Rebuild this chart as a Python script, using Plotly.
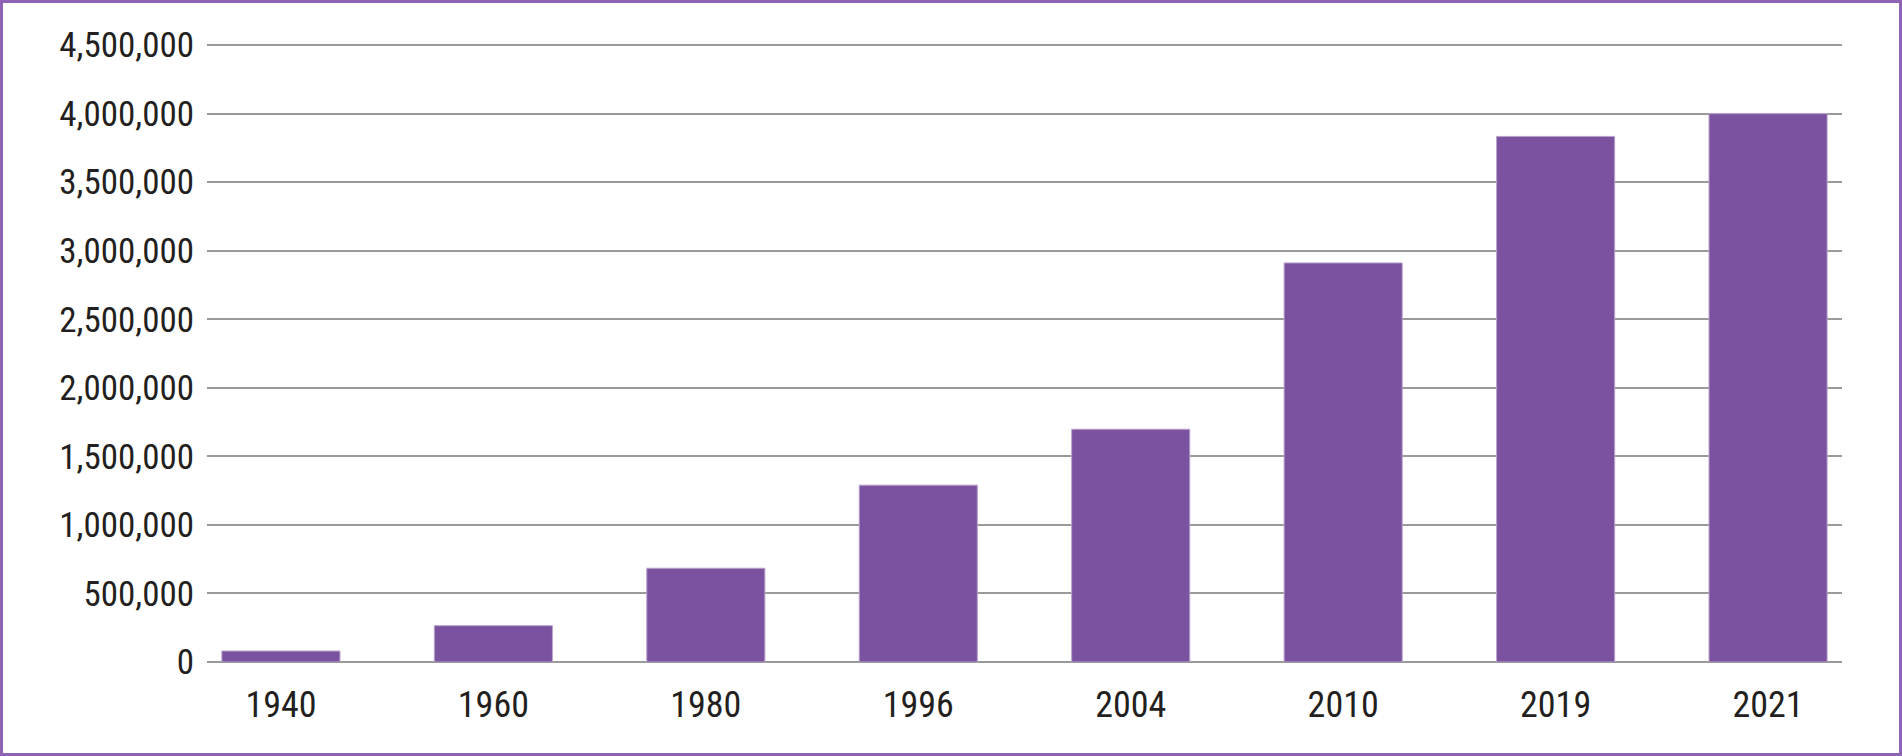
import plotly.graph_objects as go

years = ["1940", "1960", "1980", "1996", "2004", "2010", "2019", "2021"]
values = [80000, 265000, 684000, 1290000, 1698000, 2911000, 3834000, 4000000]
ytick_vals = [0, 500000, 1000000, 1500000, 2000000, 2500000, 3000000, 3500000, 4000000, 4500000]
ytick_text = ["0", "500,000", "1,000,000", "1,500,000", "2,000,000", "2,500,000",
              "3,000,000", "3,500,000", "4,000,000", "4,500,000"]
y_max = 4508000

W, H = 1902, 756
ML, MR, MT, MB = 207, 60, 44, 94
PW, PH = W - ML - MR, H - MT - MB

FONT = "Liberation Sans Narrow, Roboto Condensed, DejaVu Sans Condensed, Arial Narrow, sans-serif"

fig = go.Figure(go.Bar(
    x=years, y=values,
    width=0.556,
    marker=dict(color="#7B52A0", line=dict(color="#B9A3CC", width=1)),
))

def px_x(p):
    return (p - ML) / PW

def px_y(p):
    return (H - MB - p) / PH

fig.update_layout(
    width=W, height=H,
    margin=dict(l=ML, r=MR, t=MT, b=MB),
    paper_bgcolor="white", plot_bgcolor="white",
    showlegend=False,
    font=dict(family=FONT, size=35, color="#231F20"),
    xaxis=dict(
        type="category", range=[-0.348, 7.348],
        showgrid=False, showline=False, zeroline=False,
        ticks="", ticklabelstandoff=18,
        tickfont=dict(family=FONT, size=36, color="#231F20"),
    ),
    yaxis=dict(
        range=[0, y_max],
        tickvals=ytick_vals, ticktext=ytick_text,
        showgrid=True, gridcolor="#9A9A9A", gridwidth=2,
        zeroline=True, zerolinecolor="#9A9A9A", zerolinewidth=2,
        showline=False, ticks="", ticklabelstandoff=12,
        tickfont=dict(family=FONT, size=35, color="#231F20"),
    ),
    shapes=[dict(
        type="rect", xref="paper", yref="paper",
        x0=px_x(1.5), x1=px_x(W - 1.5), y0=px_y(H - 1.5), y1=px_y(1.5),
        line=dict(color="#8E63B3", width=3), fillcolor="rgba(0,0,0,0)",
        layer="above",
    )],
)

fig.write_html("out.html")
